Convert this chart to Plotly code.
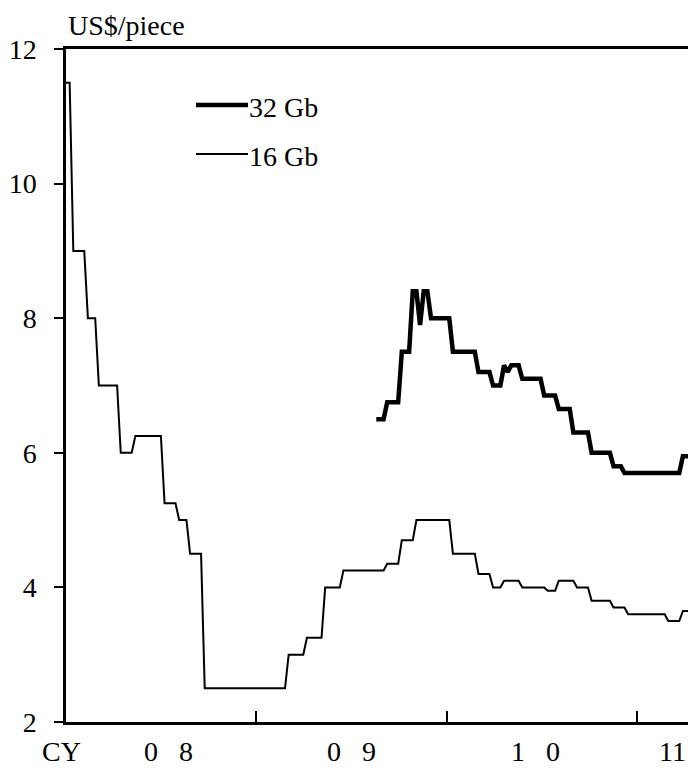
import plotly.graph_objects as go

# Weekly spot prices (US$/piece); x = week number counted from the start of CY2008.
series_names = ["32 Gb", "16 Gb"]

weeks_16gb = [0, 1, 2, 5, 6, 8, 9, 14, 15, 18, 19, 26, 27, 30, 31, 33, 34, 37, 38,
              60, 61, 65, 66, 70, 71, 75, 76, 87, 88, 91, 92, 95, 96, 105, 106,
              112, 113, 116, 117, 119, 120, 124, 125, 131, 132, 134, 135, 139, 140,
              143, 144, 149, 150, 153, 154, 164, 165, 168, 169, 171]
price_16gb = [11.5, 11.5, 9.0, 9.0, 8.0, 8.0, 7.0, 7.0, 6.0, 6.0, 6.25, 6.25, 5.25, 5.25, 5.0, 5.0, 4.5, 4.5, 2.5,
              2.5, 3.0, 3.0, 3.25, 3.25, 4.0, 4.0, 4.25, 4.25, 4.35, 4.35, 4.7, 4.7, 5.0, 5.0, 4.5,
              4.5, 4.2, 4.2, 4.0, 4.0, 4.1, 4.1, 4.0, 4.0, 3.95, 3.95, 4.1, 4.1, 4.0,
              4.0, 3.8, 3.8, 3.7, 3.7, 3.6, 3.6, 3.5, 3.5, 3.65, 3.65]

weeks_32gb = [85, 87, 88, 91, 92, 94, 95, 96, 97, 98, 99, 100, 105, 106, 112, 113, 116, 117,
              119, 120, 121, 122, 124, 125, 130, 131, 134, 135, 138, 139, 143, 144,
              149, 150, 152, 153, 168, 169, 171]
price_32gb = [6.5, 6.5, 6.75, 6.75, 7.5, 7.5, 8.4, 8.4, 7.9, 8.4, 8.4, 8.0, 8.0, 7.5, 7.5, 7.2, 7.2, 7.0,
              7.0, 7.3, 7.2, 7.3, 7.3, 7.1, 7.1, 6.85, 6.85, 6.65, 6.65, 6.3, 6.3, 6.0,
              6.0, 5.8, 5.8, 5.7, 5.7, 5.95, 5.95]

year_labels = ["CY", "0\u00a0\u00a0\u00a08", "0\u00a0\u00a0\u00a09", "1\u00a0\u00a0\u00a00", "11"]
year_ticks = [52.18, 104.36, 156.54]
y_ticks = [2, 4, 6, 8, 10, 12]

FONT = "Liberation Serif"
FS = 28
W, H = 688, 769
L, R, T, B = 66, 0, 49, 47
plot_w = W - L - R
plot_h = H - T - B
x_max = 170.4


def px_x(p):
    return (p - L) / plot_w


def px_y(p):
    return (H - B - p) / plot_h


fig = go.Figure()
fig.add_trace(go.Scatter(x=weeks_16gb, y=price_16gb, mode="lines", name=series_names[1],
                         line=dict(color="black", width=2)))
fig.add_trace(go.Scatter(x=weeks_32gb, y=price_32gb, mode="lines", name=series_names[0],
                         line=dict(color="black", width=4.5)))

annotations = [
    dict(text="US$/piece", xref="paper", yref="paper", x=0, y=px_y(26),
         xanchor="left", yanchor="middle", showarrow=False),
]
label_px = [61, 168, 351, 535, 672]
for lab, p in zip(year_labels, label_px):
    annotations.append(dict(text=lab, xref="paper", yref="paper", x=px_x(p), y=px_y(751),
                            xanchor="center", yanchor="middle", showarrow=False))

# legend drawn as sample strokes with labels
legend_rows = [(series_names[0], 4.5, 105), (series_names[1], 2, 154)]
shapes = []
for name, lw, py in legend_rows:
    shapes.append(dict(type="line", xref="paper", yref="paper",
                       x0=px_x(196), x1=px_x(248), y0=px_y(py), y1=px_y(py),
                       line=dict(color="black", width=lw)))
    annotations.append(dict(text=name, xref="paper", yref="paper", x=px_x(247), y=px_y(py + 2),
                            xanchor="left", yanchor="middle", showarrow=False))

fig.update_layout(
    width=W, height=H,
    margin=dict(l=L, r=R, t=T, b=B),
    paper_bgcolor="white", plot_bgcolor="white",
    font=dict(family=FONT, size=FS, color="black"),
    showlegend=False,
    annotations=annotations,
    shapes=shapes,
    xaxis=dict(range=[0, x_max], tickvals=year_ticks, showticklabels=False,
               ticks="inside", ticklen=11, tickwidth=2, tickcolor="black",
               showline=True, linewidth=2.5, linecolor="black", mirror=True,
               showgrid=False, zeroline=False),
    yaxis=dict(range=[2, 12], tickvals=y_ticks, ticks="outside", ticklen=9, tickwidth=2,
               tickcolor="black", showline=True, linewidth=2.5, linecolor="black",
               showgrid=False, zeroline=False, ticklabelstandoff=12,
               tickfont=dict(family=FONT, size=FS)),
)

fig.write_html("out.html")
